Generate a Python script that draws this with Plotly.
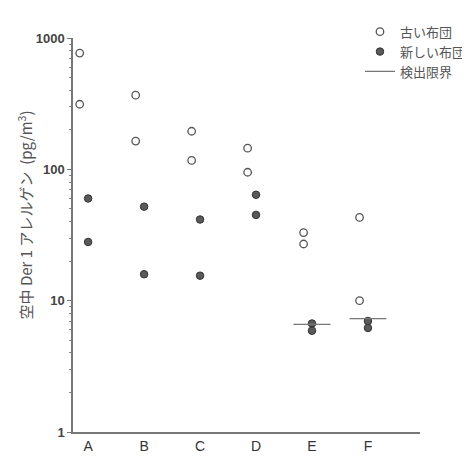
import plotly.graph_objects as go

# カテゴリと測定値 (pg/m3)
cats = ['A', 'B', 'C', 'D', 'E', 'F']
old_hi = [768, 367, 195, 145, 33, 43]
old_lo = [313, 164, 117, 95, 27, 10]
new_hi = [60, 52, 41.5, 64, 6.7, 7.0]
new_lo = [28, 15.9, 15.5, 45, 5.9, 6.2]
limit_cats = ['E', 'F']
limit_vals = [6.6, 7.3]

idx = {c: i for i, c in enumerate(cats)}
old_off = -0.15
new_off = 0.0
half = 0.33

fig = go.Figure()

xo = [idx[c] + old_off for c in cats]
xn = [idx[c] + new_off for c in cats]

fig.add_trace(go.Scatter(x=xo + xo, y=old_hi + old_lo, mode='markers', name='古い布団',
                         marker=dict(symbol='circle-open', size=7.5, color='#555555',
                                     line=dict(width=1.3, color='#555555'))))
fig.add_trace(go.Scatter(x=xn + xn, y=new_hi + new_lo, mode='markers', name='新しい布団',
                         marker=dict(symbol='circle', size=7.5, color='#5a5a5a',
                                     line=dict(width=1, color='#333333'))))

# 検出限界
lx, ly = [], []
for c, v in zip(limit_cats, limit_vals):
    lx += [idx[c] - half, idx[c] + half, None]
    ly += [v, v, None]
fig.add_trace(go.Scatter(x=lx, y=ly, mode='lines', name='検出限界',
                         line=dict(color='#777777', width=1.2)))

minor_vals = [m * 10 ** k for k in range(3) for m in range(2, 10)]

fig.update_layout(
    width=470, height=460,
    margin=dict(l=65, r=58, t=30, b=36, autoexpand=False),
    plot_bgcolor='white', paper_bgcolor='white',
    font=dict(family='Noto Sans CJK JP', color='#444444'),
    showlegend=True,
    legend=dict(x=0.827, y=1.054, xanchor='left', yanchor='top',
                font=dict(size=13, color='#555555', family='Noto Sans CJK JP'),
                bgcolor='rgba(0,0,0,0)', itemwidth=30),
    xaxis=dict(range=[-0.27, 5.93], tickvals=list(range(len(cats))), ticktext=cats,
               showgrid=False, zeroline=False, showline=True, linecolor='#777777',
               linewidth=1.5, ticks='',
               tickfont=dict(family='Liberation Sans', size=14, color='#333333')),
    yaxis=dict(type='log', range=[0, 3], tickvals=[1, 10, 100, 1000],
               ticktext=['<b>1</b>', '<b>10</b>', '<b>100</b>', '<b>1000</b>'],
               showgrid=False, zeroline=False, showline=True, linecolor='#777777',
               linewidth=1.5, ticks='outside', ticklen=4, tickcolor='#777777',
               tickfont=dict(family='Liberation Sans', size=13, color='#444444'),
               minor=dict(tickvals=minor_vals, ticks='outside', ticklen=2,
                          tickcolor='#888888')),
    annotations=[dict(text='空中 Der 1 アレルゲン  (pg/m<sup>3</sup>)',
                      xref='paper', yref='paper', x=-0.138, y=0.55,
                      xanchor='center', yanchor='middle', textangle=-90,
                      showarrow=False, font=dict(size=15, color='#555555'))],
)

fig.write_html("out.html")
